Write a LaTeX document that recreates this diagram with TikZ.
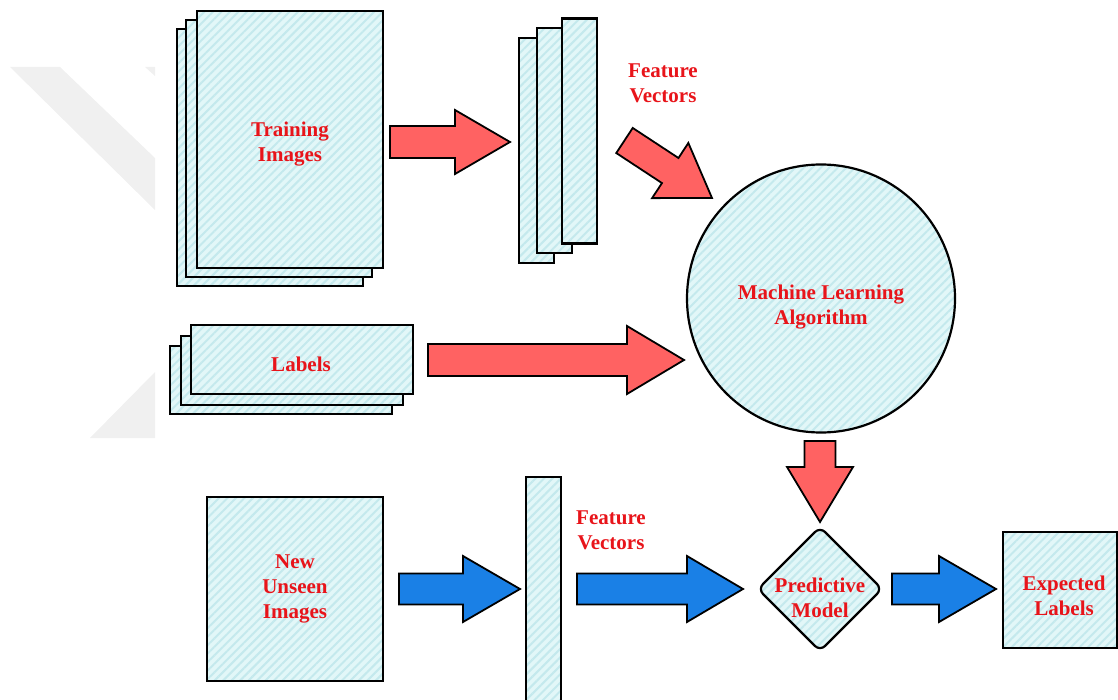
\documentclass[tikz,border=0pt]{standalone}
\usepackage{fontspec}
\setmainfont{Liberation Serif}
\usetikzlibrary{calc,shapes.geometric,patterns.meta}

\definecolor{sheetfill}{RGB}{226,247,248}
\definecolor{sheetline}{RGB}{196,233,237}
\definecolor{lblred}{RGB}{232,20,26}
\definecolor{arrowred}{RGB}{255,98,98}
\definecolor{arrowblue}{RGB}{26,128,230}
\definecolor{wmgray}{RGB}{240,240,240}

% 太い矢印: スタイル, 始点, 終点, 軸の半幅, 頭の半幅, 頭の長さ
\newcommand{\blockarrow}[6]{%
  \coordinate (bh) at ($(#3)!#6!(#2)$);
  \draw[#1] ($(#2)!#4!90:(#3)$) -- ($(bh)!#4!90:(#3)$) -- ($(bh)!#5!90:(#3)$)
    -- (#3) -- ($(bh)!#5!-90:(#3)$) -- ($(bh)!#4!-90:(#3)$) -- ($(#2)!#4!-90:(#3)$) -- cycle;
}

\begin{document}
\begin{tikzpicture}[x=1pt, y=-1pt,
    sheet/.style={draw, line width=2.2pt, inner sep=0pt, outer sep=0pt,
      preaction={fill=sheetfill},
      pattern={Lines[angle=45, distance=6pt, line width=2pt]}, pattern color=sheetline},
    lbl/.style={text=lblred, align=center, font=\bfseries\fontsize{21}{25}\selectfont},
    redarrow/.style={draw, line width=1.8pt, fill=arrowred},
    bluearrow/.style={draw, line width=1.8pt, fill=arrowblue}]
    \useasboundingbox (0,0) rectangle (1118,700);
    \clip (0,0) rectangle (1118,700);

    % 透かし
    \fill[wmgray] (10,67) -- (60,67) -- (155,158) -- (155,210) -- cycle;
    \fill[wmgray] (145,67) -- (155,67) -- (155,76) -- cycle;
    \fill[wmgray] (90,438) -- (155,372) -- (155,438) -- cycle;

    % 学習画像
    \node[sheet, minimum width=186, minimum height=257] (ti3) at (270,157.5) {};
    \node[sheet, minimum width=186, minimum height=257] (ti2) at (279,148.5) {};
    \node[sheet, minimum width=186, minimum height=257] (ti1) at (290,139.5) {};
    \node[lbl] (titext) at (290,144) {Training\\Images};

    % 特徴ベクトル
    \node[sheet, minimum width=35, minimum height=225] (fv3) at (536.5,150.5) {};
    \node[sheet, minimum width=35, minimum height=225] (fv2) at (554.5,140.5) {};
    \node[sheet, minimum width=35, minimum height=225] (fv1) at (579.5,131) {};
    \node[lbl] (fvtext) at (663,83) {Feature\\Vectors};

    % ラベル
    \node[sheet, minimum width=222, minimum height=68] (lb3) at (281,380) {};
    \node[sheet, minimum width=222, minimum height=69] (lb2) at (292,370.5) {};
    \node[sheet, minimum width=222, minimum height=69] (lb1) at (302,359.5) {};
    \node[lbl] (lbtext) at (301,364) {Labels};

    % 機械学習アルゴリズム
    \node[sheet, circle, minimum size=268] (mla) at (821,298.5) {};
    \node[lbl] (mlatext) at (821,307) {Machine Learning\\Algorithm};

    % 新しい画像
    \node[sheet, minimum width=176, minimum height=184, lbl] (nu) at (295,589) {New\\Unseen\\Images};
    \node[sheet, minimum width=35, minimum height=235] (fvn) at (543.5,594.5) {};
    \node[lbl] (fvntext) at (611,530) {Feature\\Vectors};

    % 予測モデル
    \node[sheet, diamond, minimum width=124, minimum height=124, rounded corners=7pt] (pm) at (820,589) {};
    \node[lbl] (pmtext) at (820,598) {Predictive\\Model};
    \node[sheet, minimum width=114, minimum height=116] (el) at (1060,590) {};
    \node[lbl] (eltext) at (1064,596) {Expected\\Labels};

    % 矢印
    \coordinate (a1s) at (390,142);   \coordinate (a1e) at (510,142);
    \coordinate (a2s) at (624.5,140.5); \coordinate (a2e) at (712,198);
    \coordinate (a3s) at (428,360);   \coordinate (a3e) at (684,360);
    \coordinate (a4s) at (820,441);   \coordinate (a4e) at (820,522);
    \coordinate (a5s) at (399,589);   \coordinate (a5e) at (520,589);
    \coordinate (a6s) at (577,589);   \coordinate (a6e) at (743,589);
    \coordinate (a7s) at (892,589);   \coordinate (a7e) at (996,589);
    \blockarrow{redarrow}{a1s}{a1e}{16pt}{32pt}{55pt}
    \blockarrow{redarrow}{a2s}{a2e}{15pt}{33pt}{50pt}
    \blockarrow{redarrow}{a3s}{a3e}{16pt}{34pt}{57pt}
    \blockarrow{redarrow}{a4s}{a4e}{15.5pt}{33pt}{55pt}
    \blockarrow{bluearrow}{a5s}{a5e}{15.5pt}{33pt}{57pt}
    \blockarrow{bluearrow}{a6s}{a6e}{15.5pt}{33pt}{56pt}
    \blockarrow{bluearrow}{a7s}{a7e}{15.5pt}{33pt}{57pt}
  \end{tikzpicture}
\end{document}
